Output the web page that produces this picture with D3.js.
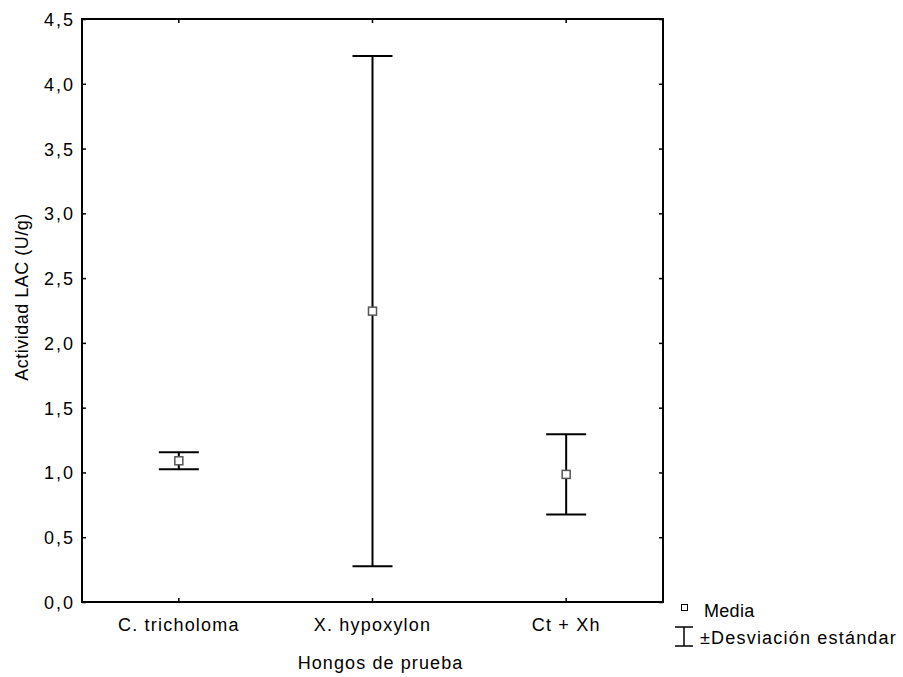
<!DOCTYPE html>
<html>
<head>
<meta charset="utf-8">
<script src="https://cdn.jsdelivr.net/npm/d3@7"></script>
<style>
  body { margin: 0; background: #fff; }
  text { font-family: "Liberation Sans", Arial, sans-serif; fill: #000; }
</style>
</head>
<body>
<script>
var categories = ['C. tricholoma', 'X. hypoxylon', 'Ct + Xh'];
var means = [1.09, 2.245, 0.985];
var sds = [0.065, 1.97, 0.31];
var yTicks = [0, 0.5, 1, 1.5, 2, 2.5, 3, 3.5, 4, 4.5];

var width = 903, height = 677;
var margin = {top: 19, right: 240, bottom: 75, left: 82};
var plotW = width - margin.left - margin.right,
    plotH = height - margin.top - margin.bottom;

var svg = d3.select('body')
    .append('svg')
    .attr('width', width)
    .attr('height', height);

var g = svg.append('g')
    .attr('transform', 'translate(' + margin.left + ',' + margin.top + ')');

var x = d3.scaleBand()
    .domain(categories)
    .range([0, plotW]);

var y = d3.scaleLinear()
    .domain([0, 4.5])
    .range([plotH, 0]);

var fmt = function(d) { return d3.format('.1f')(d).replace('.', ','); };

// left axis with labels, ticks pointing inward
var yAxis = g.append('g')
    .call(d3.axisLeft(y).tickValues(yTicks).tickSize(-4).tickPadding(7).tickFormat(fmt));
yAxis.select('.domain').remove();
yAxis.selectAll('line').attr('stroke-width', 1.5);
yAxis.selectAll('text')
    .style('font-size', '18px')
    .style('letter-spacing', '2px')
    .attr('dy', '0.36em');

// right inner ticks
var yAxisR = g.append('g')
    .attr('transform', 'translate(' + plotW + ',0)')
    .call(d3.axisRight(y).tickValues(yTicks).tickSize(-4).tickFormat(''));
yAxisR.select('.domain').remove();
yAxisR.selectAll('line').attr('stroke-width', 1.5);

// bottom axis
var xAxis = g.append('g')
    .attr('transform', 'translate(0,' + plotH + ')')
    .call(d3.axisBottom(x).tickSize(-4).tickPadding(16));
xAxis.select('.domain').remove();
xAxis.selectAll('line').attr('stroke-width', 1.5);
xAxis.selectAll('text')
    .style('font-size', '18px')
    .style('letter-spacing', '1.2px');

// top inner ticks
var xAxisT = g.append('g')
    .call(d3.axisTop(x).tickSize(-4).tickFormat(''));
xAxisT.select('.domain').remove();
xAxisT.selectAll('line').attr('stroke-width', 1.5);

// frame
g.append('rect')
    .attr('width', plotW)
    .attr('height', plotH)
    .attr('fill', 'none')
    .attr('stroke', '#000')
    .attr('stroke-width', 2);

// error bars
var capW = 20;
var bars = g.selectAll('.err')
    .data(categories)
    .enter()
    .append('g')
    .attr('class', 'err')
    .attr('transform', function(d) { return 'translate(' + (x(d) + x.bandwidth() / 2) + ',0)'; });

bars.append('line')
    .attr('y1', function(d, i) { return y(means[i] + sds[i]); })
    .attr('y2', function(d, i) { return y(means[i] - sds[i]); })
    .attr('stroke', '#000')
    .attr('stroke-width', 2);

bars.append('line')
    .attr('x1', -capW).attr('x2', capW)
    .attr('y1', function(d, i) { return y(means[i] + sds[i]); })
    .attr('y2', function(d, i) { return y(means[i] + sds[i]); })
    .attr('stroke', '#000')
    .attr('stroke-width', 2);

bars.append('line')
    .attr('x1', -capW).attr('x2', capW)
    .attr('y1', function(d, i) { return y(means[i] - sds[i]); })
    .attr('y2', function(d, i) { return y(means[i] - sds[i]); })
    .attr('stroke', '#000')
    .attr('stroke-width', 2);

bars.append('rect')
    .attr('x', -4)
    .attr('y', function(d, i) { return y(means[i]) - 4; })
    .attr('width', 8)
    .attr('height', 8)
    .attr('fill', '#fff')
    .attr('stroke', '#555')
    .attr('stroke-width', 1.5);

// axis titles
svg.append('text')
    .attr('transform', 'translate(28,297) rotate(-90)')
    .attr('text-anchor', 'middle')
    .style('font-size', '18px')
    .style('letter-spacing', '0.5px')
    .text('Actividad LAC (U/g)');

svg.append('text')
    .attr('x', margin.left + plotW / 2 + 8)
    .attr('y', 669)
    .attr('text-anchor', 'middle')
    .style('font-size', '18px')
    .style('letter-spacing', '1.1px')
    .text('Hongos de prueba');

// legend
var leg = svg.append('g');
leg.append('rect')
    .attr('x', 681.5).attr('y', 604.5)
    .attr('width', 6).attr('height', 6)
    .attr('fill', '#fff')
    .attr('stroke', '#000')
    .attr('stroke-width', 1);
leg.append('text')
    .attr('x', 704).attr('y', 617)
    .style('font-size', '18px')
    .style('letter-spacing', '0.3px')
    .text('Media');

leg.append('line').attr('x1', 675).attr('x2', 693).attr('y1', 627).attr('y2', 627).attr('stroke', '#000').attr('stroke-width', 1.5);
leg.append('line').attr('x1', 675).attr('x2', 693).attr('y1', 646).attr('y2', 646).attr('stroke', '#000').attr('stroke-width', 1.5);
leg.append('line').attr('x1', 684).attr('x2', 684).attr('y1', 627).attr('y2', 646).attr('stroke', '#000').attr('stroke-width', 1.5);
leg.append('text')
    .attr('x', 700).attr('y', 644)
    .style('font-size', '18px')
    .style('letter-spacing', '1.2px')
    .text('±Desviación estándar');
</script>
</body>
</html>
